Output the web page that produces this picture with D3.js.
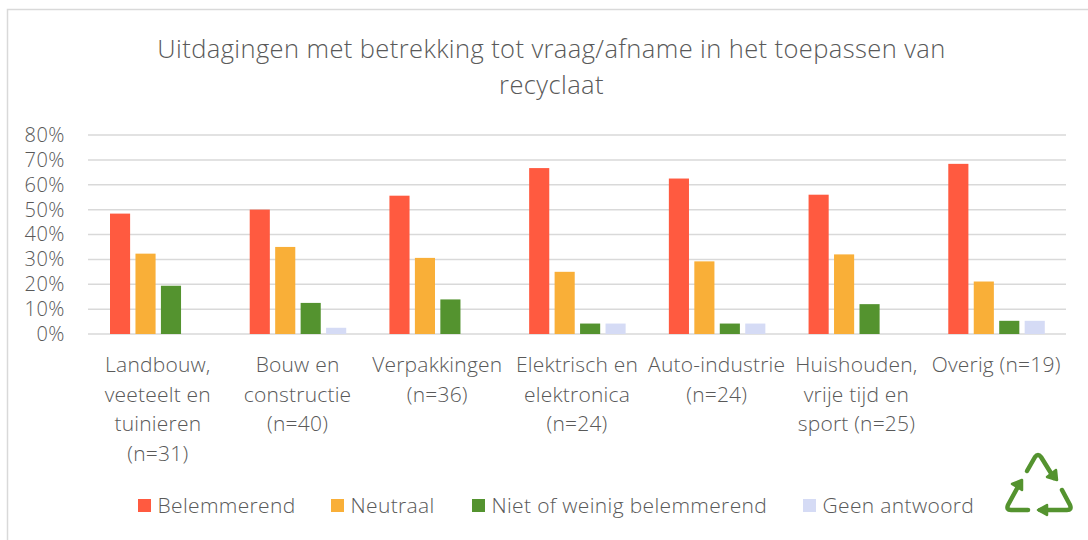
<!DOCTYPE html>
<html>
<head>
<meta charset="utf-8">
<script src="https://cdn.jsdelivr.net/npm/d3@7"></script>
<style>
  html, body { margin: 0; padding: 0; background: #fff; }
  text { font-family: "Open Sans", sans-serif; font-weight: 300; fill: #595959; }
</style>
</head>
<body>
<div id="chart"></div>
<script>
var title = ["Uitdagingen met betrekking tot vraag/afname in het toepassen van", "recyclaat"];
var categories = [
  ["Landbouw,", "veeteelt en", "tuinieren", "(n=31)"],
  ["Bouw en", "constructie", "(n=40)"],
  ["Verpakkingen", "(n=36)"],
  ["Elektrisch en", "elektronica", "(n=24)"],
  ["Auto-industrie", "(n=24)"],
  ["Huishouden,", "vrije tijd en", "sport (n=25)"],
  ["Overig (n=19)"]
];
var seriesNames = ["Belemmerend", "Neutraal", "Niet of weinig belemmerend", "Geen antwoord"];
var seriesColors = ["#ff5a40", "#f9af38", "#54932f", "#d5dbf5"];
var belemmerend = [48.4, 50, 55.6, 66.7, 62.5, 56, 68.4];
var neutraal = [32.3, 35, 30.6, 25, 29.2, 32, 21.1];
var nietWeinig = [19.4, 12.5, 13.9, 4.2, 4.2, 12, 5.3];
var geenAntwoord = [0, 2.5, 0, 4.2, 4.2, 0, 5.3];
var seriesValues = [belemmerend, neutraal, nietWeinig, geenAntwoord];
var yTicks = [0, 10, 20, 30, 40, 50, 60, 70, 80];

var width = 1088, height = 540;
var margin = { top: 135, right: 22, bottom: 206, left: 88 };

var svg = d3.select("#chart").append("svg")
  .attr("width", width)
  .attr("height", height)
  .style("display", "block");

// chart frame, only left and top edge are in the picture
svg.append("path")
  .attr("d", "M7.5,540V9.5H1088")
  .attr("fill", "none")
  .attr("stroke", "#d9d9d9")
  .attr("stroke-width", 1.5);

// title
svg.selectAll(".title")
  .data(title)
  .enter()
  .append("text")
  .attr("class", "title")
  .attr("x", 551.5)
  .attr("y", function(d, i) { return 58 + i * 35.5; })
  .attr("text-anchor", "middle")
  .style("font-size", "25.5px")
  .style("letter-spacing", "0.4px")
  .text(function(d) { return d; });

var xScale = d3.scaleBand()
  .domain(d3.range(categories.length))
  .range([margin.left, width - margin.right]);

var xInner = d3.scaleBand()
  .domain(d3.range(seriesNames.length))
  .range([0, 96.5])
  .paddingInner(0.21)
  .paddingOuter(0);

var yScale = d3.scaleLinear()
  .domain([0, 80])
  .range([height - margin.bottom, margin.top]);

// gridlines
svg.selectAll(".grid")
  .data(yTicks)
  .enter()
  .append("line")
  .attr("class", "grid")
  .attr("x1", margin.left)
  .attr("x2", width - margin.right)
  .attr("y1", function(d) { return yScale(d); })
  .attr("y2", function(d) { return yScale(d); })
  .attr("stroke", "#d9d9d9")
  .attr("stroke-width", 1.5);

// y axis labels
var yAxis = d3.axisLeft(yScale)
  .tickValues(yTicks)
  .tickSize(0)
  .tickPadding(23)
  .tickFormat(function(d) { return d + "%"; });

var yG = svg.append("g")
  .attr("transform", "translate(" + margin.left + ",0)")
  .call(yAxis);
yG.select(".domain").remove();
yG.selectAll("text").style("font-size", "20px").style("letter-spacing", "0.5px");
yG.attr("font-family", null).attr("font-size", null);

// bars
var groups = svg.selectAll(".group")
  .data(categories)
  .enter()
  .append("g")
  .attr("class", "group")
  .attr("transform", function(d, i) { return "translate(" + (xScale(i) + 22) + ",0)"; });

groups.each(function(c, i) {
  d3.select(this).selectAll("rect")
    .data(seriesValues.map(function(s) { return s[i]; }))
    .enter()
    .append("rect")
    .attr("x", function(d, j) { return xInner(j); })
    .attr("width", xInner.bandwidth())
    .attr("y", function(d) { return yScale(d); })
    .attr("height", function(d) { return yScale(0) - yScale(d); })
    .attr("fill", function(d, j) { return seriesColors[j]; });
});

// category labels
var catLabels = svg.selectAll(".cat")
  .data(categories)
  .enter()
  .append("text")
  .attr("class", "cat")
  .attr("text-anchor", "middle")
  .style("font-size", "21px")
  .style("letter-spacing", "0.2px");

catLabels.selectAll("tspan")
  .data(function(d, i) { return d.map(function(line) { return { line: line, i: i }; }); })
  .enter()
  .append("tspan")
  .attr("x", function(d) { return xScale(d.i) + xScale.bandwidth() / 2; })
  .attr("y", function(d, k) { return 372 + k * 29.5; })
  .text(function(d) { return d.line; });

// legend
var legendX = [138, 331, 472, 803];
var legend = svg.selectAll(".legend")
  .data(seriesNames)
  .enter()
  .append("g")
  .attr("class", "legend")
  .attr("transform", function(d, i) { return "translate(" + legendX[i] + ",499)"; });

legend.append("rect")
  .attr("width", 13)
  .attr("height", 13)
  .attr("fill", function(d, i) { return seriesColors[i]; });

legend.append("text")
  .attr("x", 19.5)
  .attr("y", 14)
  .style("font-size", "21px")
  .style("letter-spacing", "0.35px")
  .text(function(d) { return d; });

// recycling icon
var icon = svg.append("g")
  .attr("stroke", "#54932f")
  .attr("stroke-linecap", "round")
  .attr("stroke-linejoin", "round");
var iconLines = [
  "M1027,471L1035,457Q1038,453 1041,457L1054,478",
  "M1062,490L1070,505Q1072,510 1067,510L1040,510",
  "M1028,510L1011,510Q1006,510 1008,505L1020,483"
];
var iconHeads = [
  "M1047,477L1057,480L1056,470Z",
  "M1047,505L1038,510L1047,515Z",
  "M1012,484L1022,480L1022,490Z"
];
icon.selectAll(".arm")
  .data(iconLines)
  .enter()
  .append("path")
  .attr("class", "arm")
  .attr("d", function(d) { return d; })
  .attr("fill", "none")
  .attr("stroke-width", 4.5);
icon.selectAll(".head")
  .data(iconHeads)
  .enter()
  .append("path")
  .attr("class", "head")
  .attr("d", function(d) { return d; })
  .attr("fill", "#54932f")
  .attr("stroke-width", 2.5);
</script>
</body>
</html>
